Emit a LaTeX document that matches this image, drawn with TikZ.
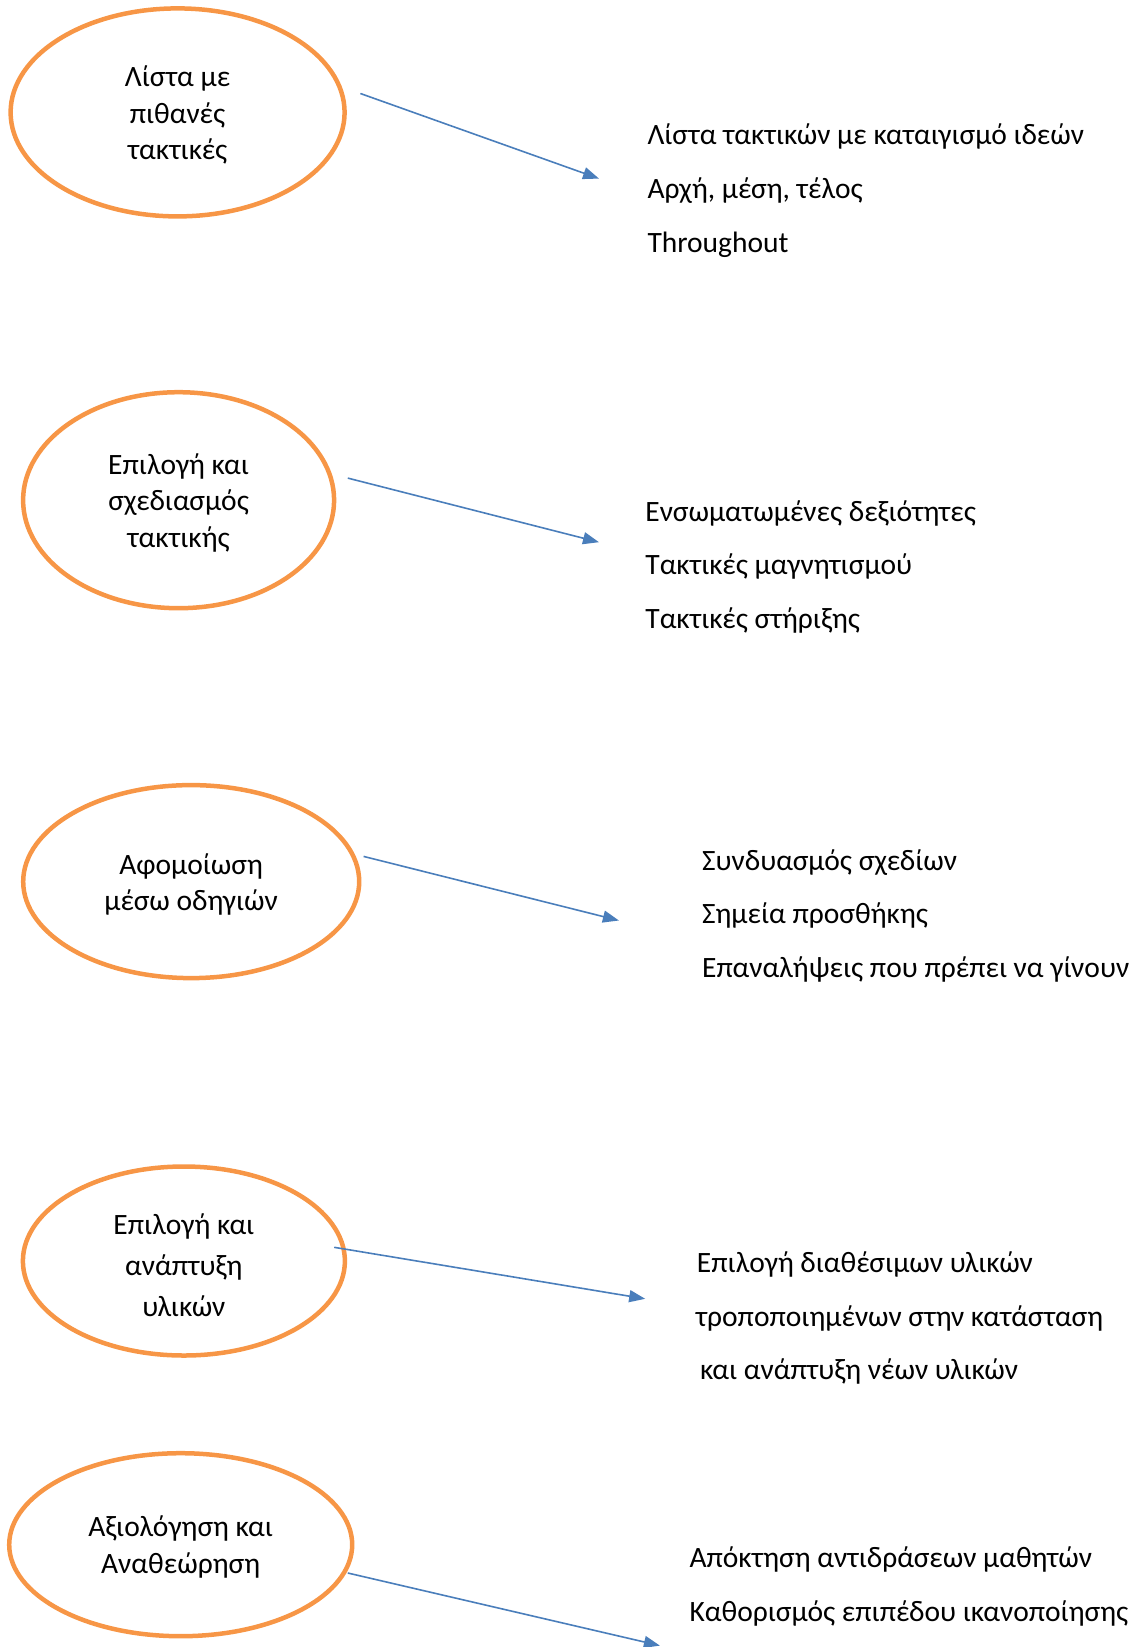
\documentclass[tikz,border=0pt]{standalone}
\usepackage{fontspec}
\setmainfont{Carlito}
\usetikzlibrary{shapes.geometric,arrows.meta}
\definecolor{ovalorange}{HTML}{F79646}
\definecolor{linkblue}{HTML}{4A7EBB}
\tikzset{
  stage/.style={ellipse, draw=ovalorange, line width=4.5pt, inner sep=0pt},
  stagetext/.style={align=center, inner sep=0pt, font=\fontsize{29.5}{36.5}\selectfont},
  item/.style={anchor=base west, inner sep=0pt, font=\fontsize{29.5}{34}\selectfont},
  link/.style={draw=linkblue, line width=1.6pt,
    -{Triangle[length=16pt,width=12pt]}}
}
\begin{document}
\begin{tikzpicture}[x=1pt,y=-1pt]
\useasboundingbox (0,0) rectangle (1137,1647);

% stages
\node[stage, minimum width=334pt, minimum height=208pt] (s1) at (177.6,112.4) {};
\node[stagetext] (t1) at ([yshift=-3pt]s1.center) {Λίστα με\\πιθανές\\τακτικές};
\node[stage, minimum width=311pt, minimum height=216pt] (s2) at (178.6,500.2) {};
\node[stagetext] (t2) at ([yshift=-2.5pt]s2.center) {Επιλογή και\\σχεδιασμός\\τακτικής};
\node[stage, minimum width=336pt, minimum height=193pt] (s3) at (191.2,881.6) {};
\node[stagetext] (t3) at ([yshift=-3pt]s3.center) {Αφομοίωση\\μέσω οδηγιών};
\node[stage, minimum width=322pt, minimum height=189pt] (s4) at (183.9,1261) {};
\node[stagetext, font=\fontsize{29.5}{41}\selectfont] (t4) at ([yshift=-4pt]s4.center)
  {Επιλογή και\\ανάπτυξη\\υλικών};
\node[stage, minimum width=343pt, minimum height=183pt] (s5) at (180.7,1544.7) {};
\node[stagetext] (t5) at ([yshift=-2.5pt]s5.center) {Αξιολόγηση και\\Αναθεώρηση};

% item lists
\node[item] (r1a) at (647.3,144) {Λίστα τακτικών με καταιγισμό ιδεών};
\node[item] (r1b) at (647.3,198.5) {Αρχή, μέση, τέλος};
\node[item] (r1c) at (647.3,252) {Throughout};

\node[item] (r2a) at (645.2,521) {Ενσωματωμένες δεξιότητες};
\node[item] (r2b) at (645.2,574.5) {Τακτικές μαγνητισμού};
\node[item] (r2c) at (645.2,628) {Τακτικές στήριξης};

\node[item] (r3a) at (701.9,870) {Συνδυασμός σχεδίων};
\node[item] (r3b) at (701.9,923.5) {Σημεία προσθήκης};
\node[item] (r3c) at (701.9,977) {Επαναλήψεις που πρέπει να γίνουν};

\node[item] (r4a) at (696.7,1272.5) {Επιλογή διαθέσιμων υλικών};
\node[item] (r4b) at (695.6,1326) {τροποποιημένων στην κατάσταση};
\node[item] (r4c) at (699.8,1379.5) {και ανάπτυξη νέων υλικών};

\node[item] (r5a) at (689.3,1567.5) {Απόκτηση αντιδράσεων μαθητών};
\node[item] (r5b) at (689.3,1621) {Καθορισμός επιπέδου ικανοποίησης};

% connector end points
\coordinate (a1s) at (360.4,93.5);   \coordinate (a1e) at (599,178.6);
\coordinate (a2s) at (347.8,478.1);  \coordinate (a2e) at (599,542.2);
\coordinate (a3s) at (363.6,856.4);  \coordinate (a3e) at (618.9,920.5);
\coordinate (a4s) at (334.2,1247.3); \coordinate (a4e) at (645.2,1298.8);
\coordinate (a5s) at (347.8,1573);   \coordinate (a5e) at (659.9,1645.6);

\draw[link] (a1s) -- (a1e);
\draw[link] (a2s) -- (a2e);
\draw[link] (a3s) -- (a3e);
\draw[link] (a4s) -- (a4e);
\draw[link] (a5s) -- (a5e);
\end{tikzpicture}
\end{document}
